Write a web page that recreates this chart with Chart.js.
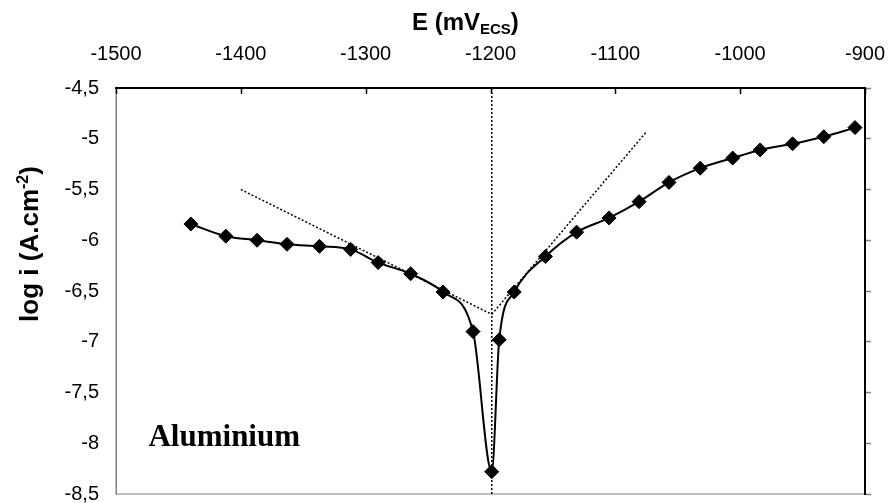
<!DOCTYPE html>
<html>
<head>
<meta charset="utf-8">
<script src="https://cdn.jsdelivr.net/npm/chart.js@4.4.0/dist/chart.umd.min.js"></script>
<style>
  html, body { margin: 0; padding: 0; background: #fff; }
</style>
</head>
<body>
<canvas id="tafel" width="889" height="503"></canvas>
<script>
// Polarisation curve (E in mV vs ECS, log of current density)
const potentials = [-1440, -1412, -1387, -1363, -1337, -1312, -1290, -1264, -1238, -1214, -1199, -1193,
  -1181, -1156, -1131, -1105, -1081, -1057, -1032, -1006, -984, -958, -933, -908]
const logCurrent = [-5.84, -5.96, -6.00, -6.04, -6.06, -6.09, -6.22, -6.33, -6.51, -6.90, -8.28, -6.98,
  -6.51, -6.16, -5.92, -5.78, -5.62, -5.43, -5.29, -5.19, -5.11, -5.05, -4.98, -4.89]

// Tafel extrapolation lines and corrosion potential
const cathodicE = [-1400, -1199]
const cathodicLogI = [-5.5, -6.73]
const anodicE = [-1199, -1075]
const anodicLogI = [-6.73, -4.93]
const corrosionE = [-1199, -1199]
const corrosionLogI = [-4.5, -8.5]

const xTicks = [-1500, -1400, -1300, -1200, -1100, -1000, -900]
const yTicks = [-4.5, -5, -5.5, -6, -6.5, -7, -7.5, -8, -8.5]

const sampleLabel = 'Aluminium'
const sampleLabelAt = [-1474, -8.03]

const SANS = '"Liberation Sans", Arial, sans-serif'
const SERIF = '"Liberation Serif", "Times New Roman", serif'

const toPoints = (xs, ys) => xs.map((v, i) => ({ x: v, y: ys[i] }))

const dotted = {
  borderColor: '#000',
  borderWidth: 1.5,
  borderDash: [2, 2],
  pointRadius: 0,
  fill: false,
  tension: 0
}

// frame, inner ticks, titles and sample name
const decorations = {
  id: 'decorations',
  beforeDraw(chart) {
    const { ctx, chartArea: a } = chart
    ctx.save()
    ctx.strokeStyle = '#808080'
    ctx.lineWidth = 1
    ctx.strokeRect(a.left, a.top, a.right - a.left, a.bottom - a.top)
    ctx.restore()
  },
  afterDraw(chart) {
    const { ctx, chartArea: a, scales } = chart
    const x = scales.x, y = scales.y
    ctx.save()

    // short ticks pointing into the plot from the top axis
    ctx.strokeStyle = '#000'
    ctx.lineWidth = 1.5
    ctx.beginPath()
    x.ticks.forEach((t, i) => {
      const px = Math.round(x.getPixelForTick(i)) + 0.5
      ctx.moveTo(px, a.top)
      ctx.lineTo(px, a.top + 6)
    })
    ctx.stroke()

    ctx.fillStyle = '#000'
    ctx.textBaseline = 'alphabetic'

    // sample name
    ctx.font = 'bold 31px ' + SERIF
    ctx.textAlign = 'left'
    ctx.fillText(sampleLabel, x.getPixelForValue(sampleLabelAt[0]), y.getPixelForValue(sampleLabelAt[1]))

    // x title: E (mV_ECS)
    let cx = 412
    ctx.font = 'bold 24px ' + SANS
    ctx.fillText('E (mV', cx, 30)
    cx += ctx.measureText('E (mV').width
    ctx.font = 'bold 15px ' + SANS
    ctx.fillText('ECS', cx, 34)
    cx += ctx.measureText('ECS').width
    ctx.font = 'bold 24px ' + SANS
    ctx.fillText(')', cx, 30)

    // y title: log i (A.cm^-2)
    ctx.translate(38, 244)
    ctx.rotate(-Math.PI / 2)
    ctx.font = 'bold 26px ' + SANS
    const w1 = ctx.measureText('log i (A.cm').width
    const w3 = ctx.measureText(')').width
    ctx.font = 'bold 16px ' + SANS
    const w2 = ctx.measureText('-2').width
    let cy = -(w1 + w2 + w3) / 2
    ctx.font = 'bold 26px ' + SANS
    ctx.fillText('log i (A.cm', cy, 0)
    cy += w1
    ctx.font = 'bold 16px ' + SANS
    ctx.fillText('-2', cy, -10)
    cy += w2
    ctx.font = 'bold 26px ' + SANS
    ctx.fillText(')', cy, 0)

    ctx.restore()
  }
}

new Chart(document.getElementById('tafel'), {
  type: 'line',
  data: {
    datasets: [
      { ...dotted, data: toPoints(corrosionE, corrosionLogI) },
      { ...dotted, data: toPoints(cathodicE, cathodicLogI) },
      { ...dotted, data: toPoints(anodicE, anodicLogI) },
      {
        data: toPoints(potentials, logCurrent),
        borderColor: '#000',
        borderWidth: 2,
        backgroundColor: '#000',
        pointStyle: 'rectRot',
        pointRadius: 7,
        pointBackgroundColor: '#000',
        pointBorderColor: '#000',
        pointBorderWidth: 1,
        cubicInterpolationMode: 'monotone',
        fill: false
      }
    ]
  },
  options: {
    responsive: false,
    animation: false,
    events: [],
    layout: { padding: { left: 0, right: 18, top: 0, bottom: 9 } },
    plugins: {
      legend: { display: false },
      tooltip: { enabled: false }
    },
    scales: {
      x: {
        type: 'linear',
        position: 'top',
        min: -1500,
        max: -900,
        afterBuildTicks: s => { s.ticks = xTicks.map(v => ({ value: v })) },
        afterFit: s => { s.height = 88; s.paddingLeft = 0; s.paddingRight = 0 },
        border: { display: true, color: '#000', width: 2 },
        grid: { display: true, drawOnChartArea: false, drawTicks: false },
        ticks: {
          autoSkip: false,
          maxRotation: 0,
          padding: 22,
          color: '#000',
          font: { family: SANS, size: 20 },
          callback: v => String(v)
        }
      },
      y: {
        type: 'linear',
        position: 'left',
        min: -8.5,
        max: -4.5,
        afterBuildTicks: s => { s.ticks = yTicks.map(v => ({ value: v })) },
        afterFit: s => { s.width = 116; s.paddingTop = 0; s.paddingBottom = 0 },
        border: { display: true, color: '#808080', width: 1 },
        grid: { display: true, drawOnChartArea: false, drawTicks: false },
        ticks: {
          autoSkip: false,
          padding: 17,
          color: '#000',
          font: { family: SANS, size: 20 },
          callback: v => String(v).replace('.', ',')
        }
      },
      yRight: {
        type: 'linear',
        position: 'right',
        min: -8.5,
        max: -4.5,
        afterBuildTicks: s => { s.ticks = yTicks.map(v => ({ value: v })) },
        afterFit: s => { s.width = 6; s.paddingTop = 0; s.paddingBottom = 0 },
        border: { display: true, color: '#000', width: 2 },
        grid: { display: true, drawOnChartArea: false, drawTicks: true, tickLength: 6, color: '#808080', tickWidth: 1.5 },
        ticks: { display: false }
      }
    }
  },
  plugins: [decorations]
})
</script>
</body>
</html>
